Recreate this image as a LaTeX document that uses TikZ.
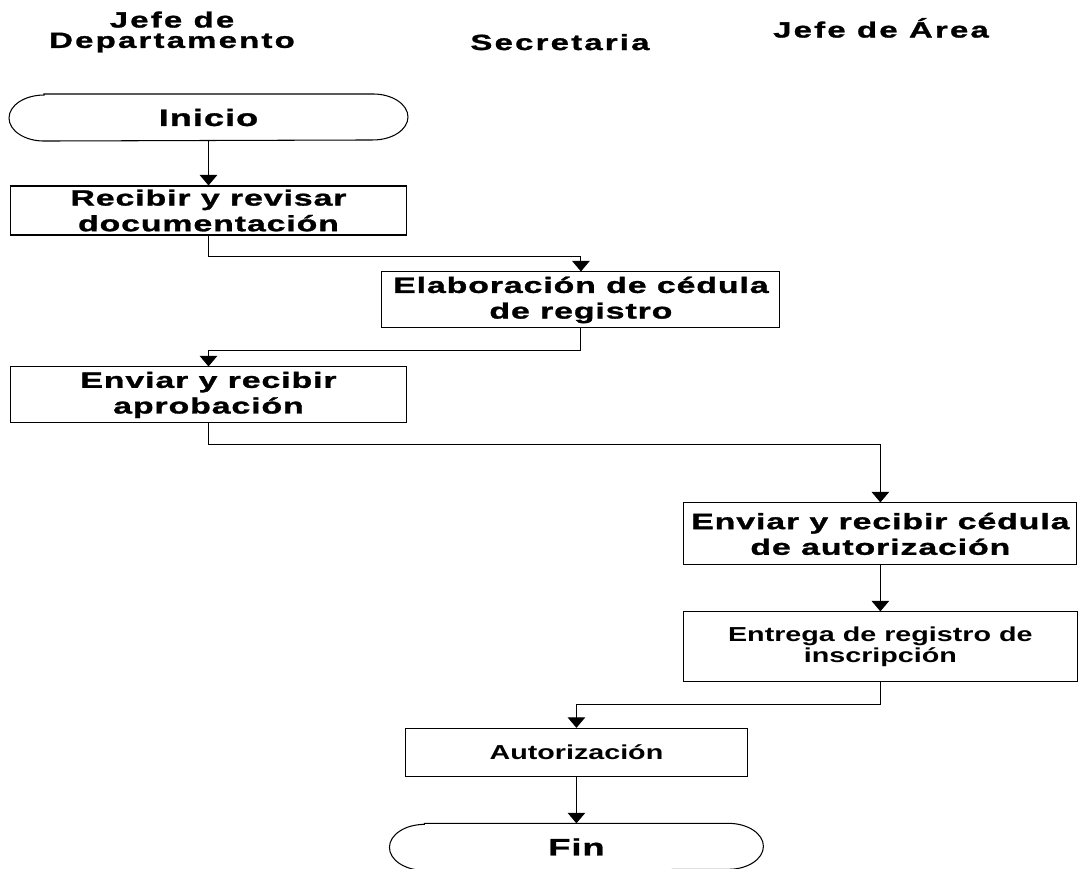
\documentclass[tikz,border=0pt]{standalone}
\usepackage{fontspec}
\setmainfont{Liberation Sans}[FakeStretch=1.42]
\newfontfamily\spacedfont{Liberation Sans}[FakeStretch=1.53, LetterSpace=4, FakeBold=1.3]
\newfontfamily\headfont{Liberation Sans}[FakeStretch=1.5, LetterSpace=10, FakeBold=1.3]
\usetikzlibrary{arrows.meta}

\begin{document}
\begin{tikzpicture}[x=0.02cm, y=-0.02cm, line width=0.6pt]
  \tikzstyle{header} = [font=\headfont\bfseries\fontsize{12.5}{11.6}\selectfont,
    align=center, inner sep=0pt]
  \tikzstyle{terminator} = [rectangle, inner sep=0pt, minimum height=0.92cm,
    font=\spacedfont\bfseries\fontsize{13.5}{15}\selectfont,
    append after command={\pgfextra{
      \draw ([xshift=0.7cm]\tikzlastnode.north west) -- ([xshift=-0.7cm]\tikzlastnode.north east)
        arc[start angle=90, end angle=-90, x radius=0.7cm, y radius=0.46cm]
        -- ([xshift=0.7cm]\tikzlastnode.south west)
        arc[start angle=270, end angle=90, x radius=0.7cm, y radius=0.46cm] -- cycle;}}]
  \tikzstyle{block} = [rectangle, draw, align=center, inner sep=0pt,
    font=\spacedfont\bfseries\fontsize{12.6}{14.6}\selectfont]
  \tikzstyle{plainblock} = [block, font=\bfseries\fontsize{11.5}{11.6}\selectfont]
  \tikzstyle{line} = [draw, -{Triangle[length=6pt, width=10pt]}]

  \useasboundingbox (0,0) rectangle (1080,869);

  % Headers
  \node [header] (jefedepto) at (172,32) {Jefe de\\Departamento};
  \node [header, anchor=base] (secretaria) at (560,50) {Secretaria};
  \node [header, anchor=base] (jefearea) at (881,37.5) {Jefe de Área};

  % Place nodes
  \node [terminator, minimum width=7.96cm] (inicio) at (208.5,117.5) {Inicio};
  \node [block, minimum width=7.94cm, minimum height=0.98cm, below of=inicio,
    node distance=1.86cm] (recibir) {Recibir y revisar\\documentación};
  \node [block, minimum width=7.96cm, minimum height=1.12cm, right of=recibir,
    node distance=7.45cm, yshift=-1.79cm] (elaboracion) {Elaboración de cédula\\de registro};
  \node [block, minimum width=7.94cm, minimum height=1.12cm, below of=recibir,
    node distance=3.69cm] (aprobacion) {Enviar y recibir\\aprobación};
  \node [block, minimum width=7.86cm, minimum height=1.24cm, right of=aprobacion,
    node distance=13.44cm, yshift=-2.78cm] (cedula) {Enviar y recibir cédula\\de autorización};
  \node [plainblock, minimum width=7.88cm, minimum height=1.4cm, below of=cedula,
    node distance=2.26cm] (entrega) {Entrega de registro de\\inscripción};
  \node [plainblock, minimum width=6.84cm, minimum height=0.96cm, left of=entrega,
    node distance=6.08cm, yshift=-2.11cm] (autorizacion) {Autorización};
  \node [terminator, minimum width=7.46cm, below of=autorizacion,
    node distance=1.89cm] (fin) {Fin};

  % Draw edges
  \path [line] (inicio) -- (recibir);
  \path [line] (recibir.south) -- ++(0,21) -| (elaboracion.north);
  \path [line] (elaboracion.south) -- ++(0,22) -| (aprobacion.north);
  \path [line] (aprobacion.south) -- ++(0,21) -| (cedula.north);
  \path [line] (cedula) -- (entrega);
  \path [line] (entrega.south) -- ++(0,22) -| (autorizacion.north);
  \path [line] (autorizacion) -- (fin);

\end{tikzpicture}
\end{document}
